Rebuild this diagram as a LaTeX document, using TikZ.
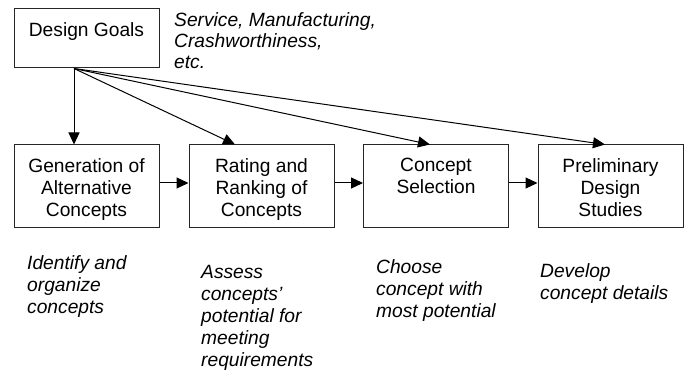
\documentclass[tikz,border=0pt]{standalone}
\usepackage{fontspec}
\setmainfont{Liberation Sans}
\usetikzlibrary{arrows.meta}
\begin{document}
\begin{tikzpicture}[x=1pt, y=-1pt,
	box/.style={draw=black!85, line width=1pt, minimum width=145pt, minimum height=83pt, inner sep=0pt},
	boxtext/.style={anchor=north, inner sep=0pt, align=center, font=\fontsize{19.2}{22}\selectfont},
	note/.style={anchor=north west, inner sep=0pt, align=left, font=\fontsize{19.2}{22}\selectfont\itshape},
	link/.style={line width=1pt, -{Triangle[length=12pt, width=11pt]}}]
	\useasboundingbox (0, 0) rectangle (686, 374);
	\node[box, minimum height=59pt] (goal) at (86.5, 38.5) {};
	\node[box] (gen) at (86.5, 186.5) {};
	\node[box] (rate) at (261.5, 186.5) {};
	\node[box] (sel) at (436, 186.5) {};
	\node[box] (pre) at (610.5, 186.5) {};
	\node[boxtext] (goaltxt) at (86.5, 22) {Design Goals};
	\node[boxtext] (gentxt) at (86.5, 158) {Generation of\\Alternative\\Concepts};
	\node[boxtext] (ratetxt) at (261.5, 158) {Rating and\\Ranking of\\Concepts};
	\node[boxtext] (seltxt) at (436, 158) {Concept\\Selection};
	\node[boxtext] (pretxt) at (610.5, 158) {Preliminary\\Design\\Studies};
	\node[note, font=\fontsize{19.2}{21}\selectfont\itshape] (goalnote) at (174, 12) {Service, Manufacturing,\\Crashworthiness,\\etc.};
	\node[note] (gennote) at (27, 255) {Identify and\\organize\\concepts};
	\node[note] (ratenote) at (201, 265) {Assess\\concepts’\\potential for\\meeting\\requirements};
	\node[note] (selnote) at (376, 259) {Choose\\concept with\\most potential};
	\node[note] (prenote) at (540, 263) {Develop\\concept details};
	\coordinate (src) at ([xshift=-12.5pt]goal.south);
	\draw[link] (src) -- (src |- gen.north);
	\draw[link] (src) -- ([xshift=-26.5pt]rate.north);
	\draw[link] (src) -- ([xshift=-6pt]sel.north);
	\draw[link] (src) -- ([xshift=-5.5pt]pre.north);
	\draw[link] ([yshift=3.5pt]gen.east) -- ([yshift=3.5pt]rate.west);
	\draw[link] ([yshift=3.5pt]rate.east) -- ([yshift=3.5pt]sel.west);
	\draw[link] ([yshift=3.5pt]sel.east) -- ([yshift=3.5pt]pre.west);
\end{tikzpicture}
\end{document}
